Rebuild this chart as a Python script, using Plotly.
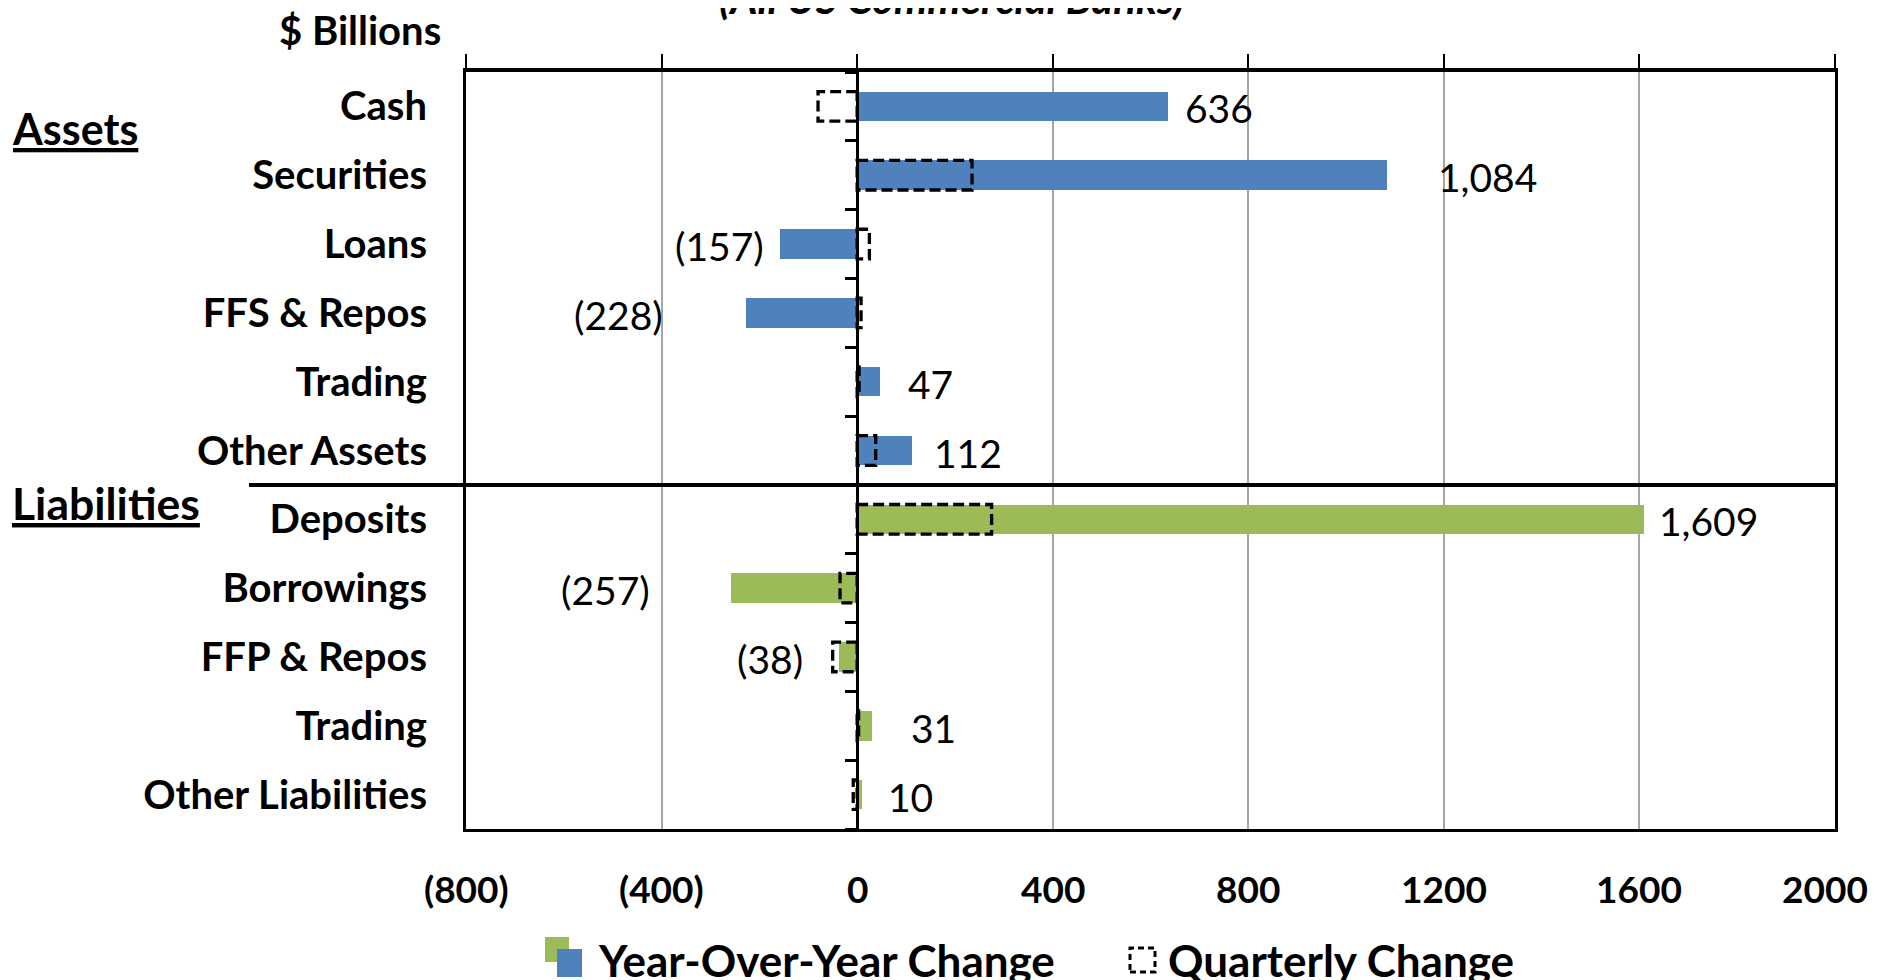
import plotly.graph_objects as go

categories = ["Cash", "Securities", "Loans", "FFS & Repos", "Trading", "Other Assets",
              "Deposits", "Borrowings", "FFP & Repos", "Trading", "Other Liabilities"]
groups = ["Assets"] * 6 + ["Liabilities"] * 5
yoy_change = [636, 1084, -157, -228, 47, 112, 1609, -257, -38, 31, 10]
quarterly_change = [-80, 235, 25, 8, 4, 38, 275, -35, -50, 3, -8]
x_tick_vals = [-800, -400, 0, 400, 800, 1200, 1600, 2000]
x_tick_text = ["(800)", "(400)", "0", "400", "800", "1200", "1600", "2000"]

# style / layout (page pixel targets; the figure div sits 8px in from the page corner)
OFF = 8
W, H = 1879, 980 - OFF
L, T = 466, 72          # plot-area left/top in page pixels
RIGHT, BOTTOM = 1835, 829
PW, PH = RIGHT - L, BOTTOM - T
BLUE, GREEN = "#4F81BD", "#9BBB59"
FONT = "Lato"
BAR_W = 0.43
label_gap = [15, 49, 14, 81, 26, 20, 13, 79, 34, 37, 24]
tick_anchor = ["center"] * 7 + ["right"]
tick_shift = [0] * 7 + [35]


def fx(px):
    return (px - L) / PW


def fy(py):
    return (BOTTOM - py) / PH


def fmt(v):
    s = f"{abs(v):,}"
    return f"({s})" if v < 0 else s


idx = list(range(len(categories)))
colors = [BLUE if g == "Assets" else GREEN for g in groups]

fig = go.Figure()
fig.add_trace(go.Bar(y=idx, x=yoy_change, orientation="h", width=BAR_W,
                     marker=dict(color=colors, line=dict(width=0)),
                     showlegend=False, hoverinfo="skip"))
# invisible trace for overlay axes
fig.add_trace(go.Scatter(x=[0], y=[0], xaxis="x2", yaxis="y2", mode="markers",
                         marker=dict(opacity=0), showlegend=False, hoverinfo="skip"))

shapes = []
for i, q in enumerate(quarterly_change):
    shapes.append(dict(type="rect", xref="x", yref="y", x0=0, x1=q,
                       y0=i - BAR_W / 2, y1=i + BAR_W / 2, layer="above",
                       line=dict(color="black", width=3.3, dash="11px,5px"),
                       fillcolor="rgba(0,0,0,0)"))
# separator between assets and liabilities
n_assets = groups.count("Assets")
shapes.append(dict(type="line", xref="paper", yref="y", x0=fx(249), x1=1,
                   y0=n_assets - 0.5, y1=n_assets - 0.5,
                   line=dict(color="black", width=4), layer="above"))

annotations = []
for i, v in enumerate(yoy_change):
    annotations.append(dict(x=v, y=i, xref="x", yref="y", text=fmt(v), showarrow=False,
                            xanchor="left" if v >= 0 else "right",
                            xshift=label_gap[i] if v >= 0 else -label_gap[i], yshift=-2,
                            font=dict(family=FONT, size=39, color="black")))
# x-axis tick labels (placed on the axis scale)
for tv, tt, ta, ts in zip(x_tick_vals, x_tick_text, tick_anchor, tick_shift):
    annotations.append(dict(x=tv, y=fy(888), xref="x", yref="paper", text=tt, showarrow=False,
                            xanchor=ta, xshift=ts, yanchor="middle",
                            font=dict(family=FONT, size=37, color="black", weight="bold")))
annotations += [
    dict(x=fx(10), y=fy(128), xref="paper", yref="paper", text="<u>Assets</u>", showarrow=False,
         xanchor="left", yanchor="middle", font=dict(family=FONT, size=43, color="black", weight="bold")),
    dict(x=fx(10), y=fy(502), xref="paper", yref="paper", text="<u>Liabilities</u>", showarrow=False,
         xanchor="left", yanchor="middle", font=dict(family=FONT, size=44.5, color="black", weight="bold")),
    dict(x=fx(443), y=fy(30), xref="paper", yref="paper", text="$ Billions", showarrow=False,
         xanchor="right", yanchor="middle", font=dict(family=FONT, size=40, color="black", weight="bold")),
    dict(x=fx(951), y=fy(-2), xref="paper", yref="paper", text="<i>(All US Commercial Banks)</i>",
         showarrow=False, xanchor="center", yanchor="middle",
         font=dict(family=FONT, size=42, color="black", weight="bold")),
    dict(x=fx(596), y=fy(960), xref="paper", yref="paper", text="Year-Over-Year Change", showarrow=False,
         xanchor="left", yanchor="middle", font=dict(family=FONT, size=44, color="black", weight="bold")),
    dict(x=fx(1166), y=fy(960), xref="paper", yref="paper", text="Quarterly Change", showarrow=False,
         xanchor="left", yanchor="middle", font=dict(family=FONT, size=44, color="black", weight="bold")),
]
# legend icons
shapes += [
    dict(type="rect", xref="paper", yref="paper", x0=fx(545), x1=fx(569), y0=fy(962), y1=fy(937),
         fillcolor=GREEN, line=dict(width=0)),
    dict(type="rect", xref="paper", yref="paper", x0=fx(557), x1=fx(582), y0=fy(977), y1=fy(949),
         fillcolor=BLUE, line=dict(width=0)),
    dict(type="rect", xref="paper", yref="paper", x0=fx(1130), x1=fx(1155), y0=fy(972), y1=fy(948),
         fillcolor="rgba(0,0,0,0)", line=dict(color="black", width=3, dash="6px,4px")),
]

yrange = [len(categories) - 0.5, -0.5]
fig.update_layout(
    width=W, height=H,
    margin=dict(l=L - OFF, r=W - (RIGHT - OFF), t=T - OFF, b=H - (BOTTOM - OFF), autoexpand=False),
    plot_bgcolor="white", paper_bgcolor="white", bargap=0,
    shapes=shapes, annotations=annotations,
    xaxis=dict(range=[-800, 2000], tickvals=x_tick_vals, showticklabels=False,
               showgrid=True, gridcolor="#a6a6a6", gridwidth=2, zeroline=False,
               showline=True, linecolor="black", linewidth=3, ticks=""),
    xaxis2=dict(range=[-800, 2000], matches="x", overlaying="x", side="top", anchor="y",
                tickvals=x_tick_vals, showticklabels=False, showgrid=False, zeroline=False,
                showline=True, linecolor="black", linewidth=4,
                ticks="outside", ticklen=14, tickwidth=2, tickcolor="black"),
    yaxis=dict(range=yrange, tickvals=idx, ticktext=categories, showgrid=False, zeroline=False,
               showline=True, linecolor="black", linewidth=3, mirror=True, ticks="",
               ticklabelstandoff=28,
               tickfont=dict(family=FONT, size=40, color="black", weight="bold")),
    yaxis2=dict(range=yrange, overlaying="y", anchor="free", position=800 / 2800, side="left",
                tickvals=[i + 0.5 for i in range(-1, len(categories))], showticklabels=False,
                showgrid=False, zeroline=False, showline=True, linecolor="black", linewidth=3,
                ticks="outside", ticklen=11, tickwidth=3, tickcolor="black"),
)

fig.write_html("out.html")
